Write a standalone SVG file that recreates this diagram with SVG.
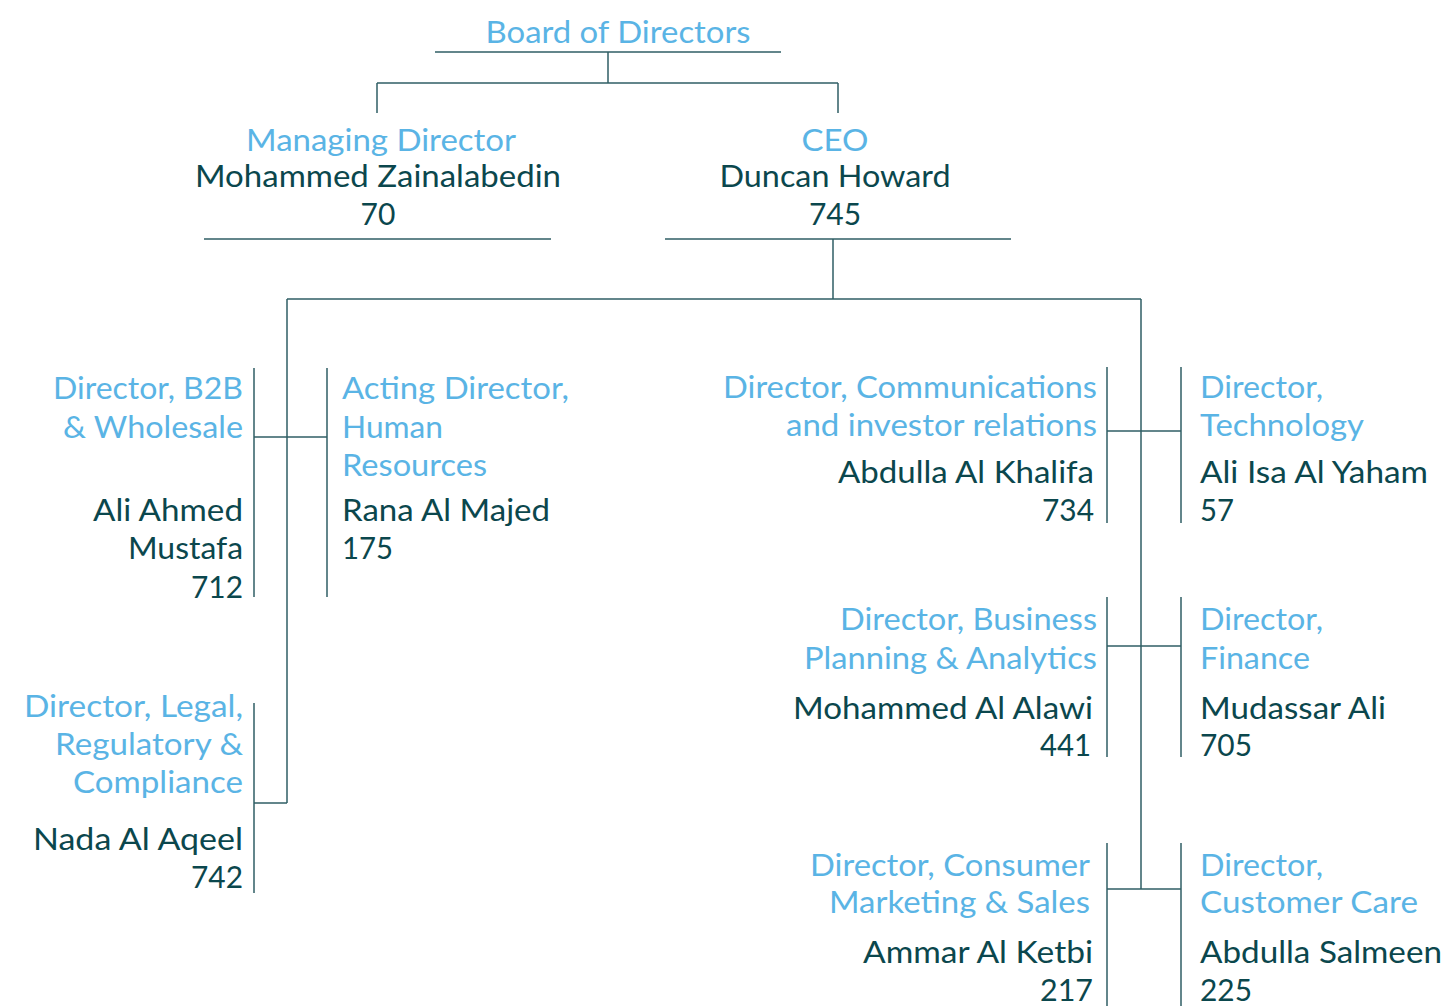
<svg xmlns="http://www.w3.org/2000/svg" width="1446" height="1006" viewBox="0 0 1446 1006">
  <style>
    text { font-family: Lato, "Open Sans", "Liberation Sans", sans-serif; font-size: 30px; }
    .role { fill: #5AB4E5; }
    .name { fill: #0B474D; }
    .end { text-anchor: end; }
    .mid { text-anchor: middle; }
    .conn line { stroke: #2F5E65; stroke-width: 1.5; fill: none; }
  </style>
  <rect width="1446" height="1006" fill="#ffffff"/>

  <!-- connector lines -->
  <g id="connectors" class="conn">
    <line x1="435" y1="52" x2="781" y2="52"/>
    <line x1="608" y1="52" x2="608" y2="83"/>
    <line x1="377" y1="83" x2="838" y2="83"/>
    <line x1="377" y1="83" x2="377" y2="113"/>
    <line x1="838" y1="83" x2="838" y2="113"/>
    <line x1="204" y1="239" x2="551" y2="239"/>
    <line x1="665" y1="239" x2="1011" y2="239"/>
    <line x1="833" y1="239" x2="833" y2="299"/>
    <line x1="287" y1="299" x2="1141" y2="299"/>
    <line x1="287" y1="299" x2="287" y2="803"/>
    <line x1="254" y1="437" x2="327" y2="437"/>
    <line x1="254" y1="368" x2="254" y2="597"/>
    <line x1="327" y1="368" x2="327" y2="597"/>
    <line x1="254" y1="803" x2="287" y2="803"/>
    <line x1="254" y1="703" x2="254" y2="893"/>
    <line x1="1141" y1="299" x2="1141" y2="889"/>
    <line x1="1107" y1="431" x2="1181" y2="431"/>
    <line x1="1107" y1="367" x2="1107" y2="523"/>
    <line x1="1181" y1="367" x2="1181" y2="523"/>
    <line x1="1107" y1="646" x2="1181" y2="646"/>
    <line x1="1107" y1="597" x2="1107" y2="757"/>
    <line x1="1181" y1="597" x2="1181" y2="757"/>
    <line x1="1107" y1="889" x2="1181" y2="889"/>
    <line x1="1107" y1="843" x2="1107" y2="1006"/>
    <line x1="1181" y1="843" x2="1181" y2="1006"/>
  </g>

  <g id="board">
    <text class="role mid" x="618" y="43" textLength="265" lengthAdjust="spacingAndGlyphs">Board of Directors</text>
  </g>

  <g id="managing-director">
    <text class="role mid" x="381" y="151" textLength="270" lengthAdjust="spacingAndGlyphs">Managing Director</text>
    <text class="name mid" x="378" y="187" textLength="366" lengthAdjust="spacingAndGlyphs">Mohammed Zainalabedin</text>
    <text class="name mid" x="378" y="225">70</text>
  </g>

  <g id="ceo">
    <text class="role mid" x="835" y="151" textLength="67" lengthAdjust="spacingAndGlyphs">CEO</text>
    <text class="name mid" x="835" y="187" textLength="231" lengthAdjust="spacingAndGlyphs">Duncan Howard</text>
    <text class="name mid" x="835" y="225">745</text>
  </g>

  <g id="b2b-wholesale">
    <text class="role end" x="243" y="399" textLength="190" lengthAdjust="spacingAndGlyphs">Director, B2B</text>
    <text class="role end" x="243" y="438" textLength="180" lengthAdjust="spacingAndGlyphs">&amp; Wholesale</text>
    <text class="name end" x="243" y="521" textLength="150" lengthAdjust="spacingAndGlyphs">Ali Ahmed</text>
    <text class="name end" x="243" y="559" textLength="115" lengthAdjust="spacingAndGlyphs">Mustafa</text>
    <text class="name end" x="243" y="598" textLength="52" lengthAdjust="spacingAndGlyphs">712</text>
  </g>

  <g id="human-resources">
    <text class="role" x="342" y="399" textLength="227" lengthAdjust="spacingAndGlyphs">Acting Director,</text>
    <text class="role" x="342" y="438" textLength="101" lengthAdjust="spacingAndGlyphs">Human</text>
    <text class="role" x="342" y="476" textLength="145" lengthAdjust="spacingAndGlyphs">Resources</text>
    <text class="name" x="342" y="521" textLength="208" lengthAdjust="spacingAndGlyphs">Rana Al Majed</text>
    <text class="name" x="342" y="559" textLength="51" lengthAdjust="spacingAndGlyphs">175</text>
  </g>

  <g id="legal-regulatory">
    <text class="role end" x="243" y="717" textLength="219" lengthAdjust="spacingAndGlyphs">Director, Legal,</text>
    <text class="role end" x="243" y="755" textLength="188" lengthAdjust="spacingAndGlyphs">Regulatory &amp;</text>
    <text class="role end" x="243" y="793" textLength="170" lengthAdjust="spacingAndGlyphs">Compliance</text>
    <text class="name end" x="243" y="850" textLength="210" lengthAdjust="spacingAndGlyphs">Nada Al Aqeel</text>
    <text class="name end" x="243" y="888" textLength="52" lengthAdjust="spacingAndGlyphs">742</text>
  </g>

  <g id="communications">
    <text class="role end" x="1097" y="398" textLength="374" lengthAdjust="spacingAndGlyphs">Director, Communications</text>
    <text class="role end" x="1097" y="436" textLength="311" lengthAdjust="spacingAndGlyphs">and investor relations</text>
    <text class="name end" x="1094" y="483" textLength="256" lengthAdjust="spacingAndGlyphs">Abdulla Al Khalifa</text>
    <text class="name end" x="1094" y="521" textLength="52" lengthAdjust="spacingAndGlyphs">734</text>
  </g>

  <g id="technology">
    <text class="role" x="1200" y="398" textLength="123" lengthAdjust="spacingAndGlyphs">Director,</text>
    <text class="role" x="1200" y="436" textLength="164" lengthAdjust="spacingAndGlyphs">Technology</text>
    <text class="name" x="1200" y="483" textLength="228" lengthAdjust="spacingAndGlyphs">Ali Isa Al Yaham</text>
    <text class="name" x="1200" y="521" textLength="34" lengthAdjust="spacingAndGlyphs">57</text>
  </g>

  <g id="business-planning">
    <text class="role end" x="1097" y="630" textLength="257" lengthAdjust="spacingAndGlyphs">Director, Business</text>
    <text class="role end" x="1097" y="669" textLength="293" lengthAdjust="spacingAndGlyphs">Planning &amp; Analytics</text>
    <text class="name end" x="1093" y="719" textLength="300" lengthAdjust="spacingAndGlyphs">Mohammed Al Alawi</text>
    <text class="name end" x="1091" y="756" textLength="51" lengthAdjust="spacingAndGlyphs">441</text>
  </g>

  <g id="finance">
    <text class="role" x="1200" y="630" textLength="123" lengthAdjust="spacingAndGlyphs">Director,</text>
    <text class="role" x="1200" y="669" textLength="110" lengthAdjust="spacingAndGlyphs">Finance</text>
    <text class="name" x="1200" y="719" textLength="186" lengthAdjust="spacingAndGlyphs">Mudassar Ali</text>
    <text class="name" x="1200" y="756" textLength="52" lengthAdjust="spacingAndGlyphs">705</text>
  </g>

  <g id="consumer-marketing">
    <text class="role end" x="1090" y="876" textLength="280" lengthAdjust="spacingAndGlyphs">Director, Consumer</text>
    <text class="role end" x="1090" y="913" textLength="261" lengthAdjust="spacingAndGlyphs">Marketing &amp; Sales</text>
    <text class="name end" x="1093" y="963" textLength="230" lengthAdjust="spacingAndGlyphs">Ammar Al Ketbi</text>
    <text class="name end" x="1093" y="1001" textLength="53" lengthAdjust="spacingAndGlyphs">217</text>
  </g>

  <g id="customer-care">
    <text class="role" x="1200" y="876" textLength="123" lengthAdjust="spacingAndGlyphs">Director,</text>
    <text class="role" x="1200" y="913" textLength="218" lengthAdjust="spacingAndGlyphs">Customer Care</text>
    <text class="name" x="1200" y="963" textLength="242" lengthAdjust="spacingAndGlyphs">Abdulla Salmeen</text>
    <text class="name" x="1200" y="1001" textLength="52" lengthAdjust="spacingAndGlyphs">225</text>
  </g>
</svg>
